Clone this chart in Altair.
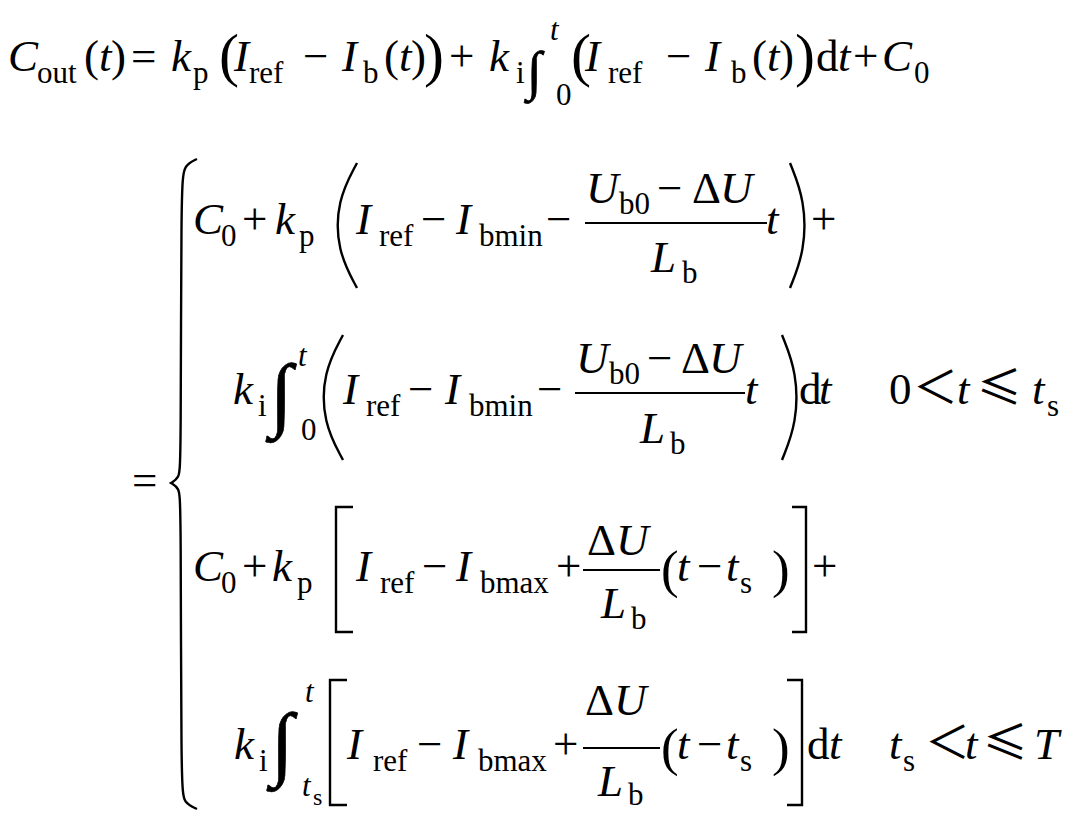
import altair as alt
import pandas as pd

M = 45   # main text size
S = 31   # subscript size
P = 60   # enlarged parenthesis (first line)
Q = 53   # medium parenthesis
G = 82   # tall integral sign
G1 = 54  # integral sign in first line

# text pieces: (text, x, baseline y, size, style)
# style: i=italic serif, r=roman serif, g=integral glyph, c=CJK relation signs
LINE1 = [
    ("C", 8, 71, M, "i"), ("out", 37, 83, S, "r"),
    ("(", 84, 71, M, "r"), ("t", 99, 71, M, "i"), (")", 111, 71, M, "r"),
    ("=", 131, 71, M, "r"),
    ("k", 171, 71, M, "i"), ("p", 193, 83, S, "r"),
    ("(", 219, 75, P, "r"),
    ("I", 234, 71, M, "i"), ("ref", 249, 83, S, "r"),
    ("\u2212", 303, 71, M, "r"),
    ("I", 342, 71, M, "i"), ("b", 363, 83, S, "r"),
    ("(", 384, 71, M, "r"), ("t", 399, 71, M, "i"), (")", 411, 71, M, "r"),
    (")", 424, 75, P, "r"),
    ("+", 449, 71, M, "r"),
    ("k", 489, 71, M, "i"), ("i", 516, 83, S, "r"),
    ("\u222b", 527, 89, G1, "g"), ("t", 550, 40, S, "i"), ("0", 556, 105, S, "r"),
    ("(", 571, 75, P, "r"),
    ("I", 585, 71, M, "i"), ("ref", 608, 83, S, "r"),
    ("\u2212", 666, 71, M, "r"),
    ("I", 705, 71, M, "i"), ("b", 731, 83, S, "r"),
    ("(", 752, 71, M, "r"), ("t", 767, 71, M, "i"), (")", 779, 71, M, "r"),
    (")", 795, 75, P, "r"),
    ("d", 816, 71, M, "r"), ("t", 838, 71, M, "i"),
    ("+", 853, 71, M, "r"),
    ("C", 882, 71, M, "i"), ("0", 914, 83, S, "r"),
]

EQ = [("=", 132, 495, M, "r")]

ROW1 = [
    ("C", 193, 234, M, "i"), ("0", 221, 246, S, "r"),
    ("+", 242, 234, M, "r"),
    ("k", 275, 234, M, "i"), ("p", 299, 246, S, "r"),
    ("I", 356, 234, M, "i"), ("ref", 379, 246, S, "r"),
    ("\u2212", 421, 234, M, "r"),
    ("I", 456, 234, M, "i"), ("bmin", 479, 246, S, "r"),
    ("\u2212", 546, 234, M, "r"),
    ("U", 586, 203, M, "i"), ("b0", 619, 214, S, "r"),
    ("\u2212", 657, 203, M, "r"), ("\u0394", 692, 203, M, "r"), ("U", 720, 203, M, "i"),
    ("L", 651, 272, M, "i"), ("b", 682, 283, S, "r"),
    ("t", 766, 234, M, "i"),
    ("+", 811, 234, M, "r"),
]

ROW2 = [
    ("k", 233, 404, M, "i"), ("i", 258, 416, S, "r"),
    ("\u222b", 270, 421, G, "g"), ("t", 298, 366, S, "i"), ("0", 301, 440, S, "r"),
    ("I", 343, 404, M, "i"), ("ref", 366, 416, S, "r"),
    ("\u2212", 408, 404, M, "r"),
    ("I", 445, 404, M, "i"), ("bmin", 469, 416, S, "r"),
    ("\u2212", 537, 404, M, "r"),
    ("U", 576, 373, M, "i"), ("b0", 609, 384, S, "r"),
    ("\u2212", 647, 373, M, "r"), ("\u0394", 681, 373, M, "r"), ("U", 709, 373, M, "i"),
    ("L", 640, 443, M, "i"), ("b", 670, 454, S, "r"),
    ("t", 745, 404, M, "i"),
    ("d", 799, 404, M, "r"), ("t", 819, 404, M, "i"),
    ("0", 889, 404, M, "r"), ("\uff1c", 913, 404, M, "c"), ("t", 957, 404, M, "i"),
    ("\u2264", 977, 404, M, "c"), ("t", 1032, 404, M, "i"), ("s", 1047, 416, S, "r"),
]

ROW3 = [
    ("C", 193, 581, M, "i"), ("0", 221, 593, S, "r"),
    ("+", 242, 581, M, "r"),
    ("k", 272, 581, M, "i"), ("p", 297, 593, S, "r"),
    ("I", 356, 581, M, "i"), ("ref", 380, 593, S, "r"),
    ("\u2212", 422, 581, M, "r"),
    ("I", 456, 581, M, "i"), ("bmax", 480, 593, S, "r"),
    ("+", 556, 581, M, "r"),
    ("\u0394", 587, 555, M, "r"), ("U", 616, 555, M, "i"),
    ("L", 601, 618, M, "i"), ("b", 631, 629, S, "r"),
    ("(", 661, 587, Q, "r"), ("t", 677, 581, M, "i"), ("\u2212", 697, 581, M, "r"),
    ("t", 726, 581, M, "i"), ("s", 740, 593, S, "r"), (")", 772, 587, Q, "r"),
    ("+", 812, 581, M, "r"),
]

ROW4 = [
    ("k", 234, 759, M, "i"), ("i", 259, 771, S, "r"),
    ("\u222b", 271, 770, G, "g"), ("t", 305, 702, S, "i"),
    ("t", 302, 796, S, "i"), ("s", 313, 805, 24, "r"),
    ("I", 347, 759, M, "i"), ("ref", 373, 771, S, "r"),
    ("\u2212", 417, 759, M, "r"),
    ("I", 453, 759, M, "i"), ("bmax", 478, 771, S, "r"),
    ("+", 553, 759, M, "r"),
    ("\u0394", 585, 715, M, "r"), ("U", 614, 715, M, "i"),
    ("L", 598, 796, M, "i"), ("b", 628, 805, S, "r"),
    ("(", 661, 765, Q, "r"), ("t", 677, 759, M, "i"), ("\u2212", 697, 759, M, "r"),
    ("t", 726, 759, M, "i"), ("s", 740, 771, S, "r"), (")", 772, 765, Q, "r"),
    ("d", 807, 759, M, "r"), ("t", 829, 759, M, "i"),
    ("t", 889, 759, M, "i"), ("s", 903, 771, S, "r"), ("\uff1c", 925, 759, M, "c"),
    ("t", 965, 759, M, "i"), ("\u2264", 983, 759, M, "c"), ("T", 1034, 759, M, "i"),
]

# fraction bars: (x1, x2, y)
BARS = [(585, 767, 223), (575, 745, 393), (583, 660, 570), (583, 660, 748)]

# tall parentheses: (end x, belly x, top, bottom)
PARENS = [(357, 337, 163, 288), (790, 805, 163, 288),
          (343, 323, 335, 460), (782, 797, 335, 460)]

# square brackets: (serif end x, vertical x, top, bottom)
BRACKETS = [(353, 336, 507, 632), (792, 806, 507, 632),
            (347, 330, 680, 805), (787, 802, 680, 805)]

# curly brace outline points
BRACE_X = [197, 184, 181, 181, 179, 171, 171, 171, 179, 181, 181, 184, 197]
BRACE_Y = [159, 165, 185, 465, 478, 483, 483, 483, 488, 501, 788, 803, 809]

rows = LINE1 + EQ + ROW1 + ROW2 + ROW3 + ROW4

curve_rows = []
for i, (xe, xb, top, bot) in enumerate(PARENS):
    h = bot - top
    pts = [(xe, top), (xb, top + 0.3 * h), (xb, bot - 0.3 * h), (xe, bot)]
    for k, (px, py) in enumerate(pts):
        curve_rows.append({"id": f"p{i}", "k": k, "x": px, "y": py})
for k, (px, py) in enumerate(zip(BRACE_X, BRACE_Y)):
    curve_rows.append({"id": "brace", "k": k, "x": px, "y": py})
curves = pd.DataFrame(curve_rows)

br_rows = []
for i, (xe, xv, top, bot) in enumerate(BRACKETS):
    for k, (px, py) in enumerate([(xe, top), (xv, top), (xv, bot), (xe, bot)]):
        br_rows.append({"id": f"b{i}", "k": k, "x": px, "y": py})
brackets = pd.DataFrame(br_rows)

bars = pd.DataFrame(BARS, columns=["x", "x2", "y"])

X = alt.X("x:Q", scale=alt.Scale(domain=[8, 1074]), axis=None)
Y = alt.Y("y:Q", scale=alt.Scale(domain=[8, 812], reverse=True), axis=None)

FONT_OF = {"i": "Liberation Serif", "r": "Liberation Serif",
           "g": "Liberation Serif", "c": "Noto Sans CJK SC"}

groups = {}
for txt, x, y, fs, kind in rows:
    groups.setdefault((kind, fs), []).append({"label": txt, "x": x, "y": y})

layers = []
for (kind, fs), recs in sorted(groups.items()):
    props = dict(font=FONT_OF[kind], fontSize=fs, align="left",
                 baseline="alphabetic")
    if kind == "i":
        props["fontStyle"] = "italic"
    if kind == "g":
        props["stroke"] = "black"
        props["strokeWidth"] = 0.7
    layers.append(
        alt.Chart(pd.DataFrame(recs)).mark_text(**props).encode(
            x=X, y=Y, text="label:N")
    )

curve_layer = alt.Chart(curves).mark_line(
    interpolate="basis", color="black", strokeWidth=2.4
).encode(x=X, y=Y, detail="id:N", order="k:Q")

bracket_layer = alt.Chart(brackets).mark_line(
    interpolate="linear", color="black", strokeWidth=2.4, strokeJoin="miter"
).encode(x=X, y=Y, detail="id:N", order="k:Q")

bar_layer = alt.Chart(bars).mark_rule(color="black", strokeWidth=2.2).encode(
    x=X, x2="x2:Q", y=Y
)

chart = alt.layer(*layers, curve_layer, bracket_layer, bar_layer).properties(
    width=1066, height=804, padding=0, autosize=alt.AutoSizeParams(type="none"),
).configure_view(stroke=None)

chart.save("out.html", embed_options={"renderer": "svg", "actions": False})
